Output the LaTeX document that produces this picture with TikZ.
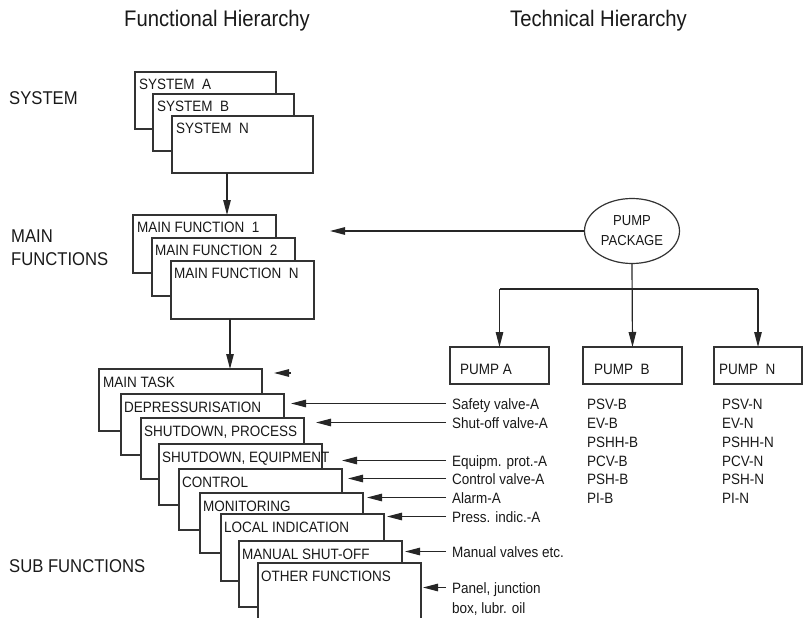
\documentclass[tikz,border=0pt]{standalone}
\usepackage{fontspec}
\setmainfont{Liberation Sans}[FakeStretch=0.9]
\usetikzlibrary{arrows.meta,calc,shapes.geometric}
\begin{document}
\begin{tikzpicture}[x=1pt,y=-1pt,
  box/.style={draw=black!80, line width=1.3pt, fill=white, inner sep=0pt, outer sep=0pt, anchor=north west},
  sysbox/.style={box, minimum width=141pt, minimum height=57pt},
  mfbox/.style={box, minimum width=143pt, minimum height=58pt},
  sfbox/.style={box, minimum width=163pt, minimum height=#1},
  sfbox/.default=61pt,
  pumpbox/.style={box, minimum height=37pt, minimum width=#1},
  tag/.style={anchor=base west, inner sep=0pt, font=\fontsize{15}{18}\selectfont, text=black!90, text height=12pt, text depth=1pt},
  side/.style={anchor=base west, inner sep=0pt, font=\fontsize{18.5}{22}\selectfont, text=black!90},
  heading/.style={anchor=base west, inner sep=0pt, font=\fontsize{22.5}{26}\selectfont, text=black!90},
  arr/.style={draw=black!85, line width=1.2pt, -{Triangle[length=15pt,width=7.5pt]}},
  link/.style={draw=black!85, line width=1.2pt},
]
\clip (0,0) rectangle (804,618);

% headings
\node[heading] (hfun) at (124,27) {Functional Hierarchy};
\node[heading] (htec) at (510,27) {Technical Hierarchy};

% level names
\node[side] (lsys) at (9,104) {SYSTEM};
\node[side] (lmain) at (11,242) {MAIN};
\node[side] (lfunc) at (11,265) {FUNCTIONS};
\node[side] (lsub) at (9,572) {SUB FUNCTIONS};

% systems
\node[sysbox] (sa) at (135,72) {};
\node[tag] (tsa) at ($(sa.north west)+(4,17.5)$) {SYSTEM\ \ A};
\node[sysbox] (sb) at (153,94) {};
\node[tag] (tsb) at ($(sb.north west)+(4,17.5)$) {SYSTEM\ \ B};
\node[sysbox] (sn) at (172,116) {};
\node[tag] (tsn) at ($(sn.north west)+(4,17.5)$) {SYSTEM\ \ N};

% main functions
\node[mfbox] (mf1) at (133,215) {};
\node[tag] (tmf1) at ($(mf1.north west)+(4,17.5)$) {MAIN FUNCTION\ \ 1};
\node[mfbox] (mf2) at (152,238) {};
\node[tag] (tmf2) at ($(mf2.north west)+(3,17.5)$) {MAIN FUNCTION\ \ 2};
\node[mfbox] (mfn) at (171,261) {};
\node[tag] (tmfn) at ($(mfn.north west)+(3,17.5)$) {MAIN FUNCTION\ \ N};

% sub functions
\node[sfbox=62pt] (mt) at (99,369) {};
\node[tag] (tmt) at ($(mt.north west)+(4,18)$) {MAIN TASK};
\node[sfbox] (dp) at (121,394) {};
\node[tag] (tdp) at ($(dp.north west)+(3,18)$) {DEPRESSURISATION};
\node[sfbox] (sp) at (141,418) {};
\node[tag] (tsp) at ($(sp.north west)+(3,18)$) {SHUTDOWN, PROCESS};
\node[sfbox] (se) at (159,444) {};
\node[tag] (tse) at ($(se.north west)+(3,18)$) {SHUTDOWN, EQUIPMENT};
\node[sfbox] (ct) at (179,469) {};
\node[tag] (tct) at ($(ct.north west)+(3,18)$) {CONTROL};
\node[sfbox=60pt] (mo) at (200,493) {};
\node[tag] (tmo) at ($(mo.north west)+(3,18)$) {MONITORING};
\node[sfbox=67pt] (li) at (221,514) {};
\node[tag] (tli) at ($(li.north west)+(3,18)$) {LOCAL INDICATION};
\node[sfbox=66pt] (ms) at (239,541) {};
\node[tag] (tms) at ($(ms.north west)+(3,18)$) {MANUAL SHUT-OFF};
\node[sfbox=80pt] (of) at (258,563) {};
\node[tag] (tof) at ($(of.north west)+(3,18)$) {OTHER FUNCTIONS};

% vertical links of the functional hierarchy
\draw[arr] ([xshift=55pt]sn.south west) -- ([xshift=55pt]sn.south west |- mf1.north);
\draw[arr] ([xshift=59pt]mfn.south west) -- ([xshift=59pt]mfn.south west |- mt.north);

% technical hierarchy
\node[draw=black!80, line width=1.2pt, fill=white, ellipse, minimum width=95pt, minimum height=65pt,
      inner sep=0pt, align=center, font=\fontsize{14.5}{20}\selectfont, text=black!90] (pp) at (632,231) {PUMP\\PACKAGE};
\draw[arr] (pp.west) -- ([xshift=35pt]mf2.east |- pp.west);

\node[pumpbox=99pt] (pa) at (450,347) {};
\node[tag] (tpa) at ($(pa.north west)+(10,27)$) {PUMP A};
\node[pumpbox=99pt] (pb) at (583,347) {};
\node[tag] (tpb) at ($(pb.north west)+(11,27)$) {PUMP\ \ B};
\node[pumpbox=88pt] (pn) at (714,347) {};
\node[tag] (tpn) at ($(pn.north west)+(5,27)$) {PUMP\ \ N};

\coordinate (bus) at (632,289);
\draw[link] (pa.north |- bus) -- (pn.north |- bus);
\draw[arr] (pp.south) -- (pb.north);
\draw[arr] (pa.north |- bus) -- (pa.north);
\draw[arr] (pn.north |- bus) -- (pn.north);

% components of pump A
\node[tag] (ra1) at (452,409) {Safety valve-A};
\node[tag] (ra2) at (452,428) {Shut-off valve-A};
\node[tag] (ra3) at (452,466) {Equipm. prot.-A};
\node[tag] (ra4) at (452,484) {Control valve-A};
\node[tag] (ra5) at (452,503) {Alarm-A};
\node[tag] (ra6) at (452,522) {Press. indic.-A};
\node[tag] (ra7) at (452,557) {Manual valves etc.};
\node[tag] (ra8) at (452,593) {Panel, junction};
\node[tag] (ra9) at (452,613) {box, lubr. oil};

% components of pump B
\node[tag] (rb1) at (587,409) {PSV-B};
\node[tag] (rb2) at (587,428) {EV-B};
\node[tag] (rb3) at (587,447) {PSHH-B};
\node[tag] (rb4) at (587,466) {PCV-B};
\node[tag] (rb5) at (587,484) {PSH-B};
\node[tag] (rb6) at (587,503) {PI-B};

% components of pump N
\node[tag] (rn1) at (722,409) {PSV-N};
\node[tag] (rn2) at (722,428) {EV-N};
\node[tag] (rn3) at (722,447) {PSHH-N};
\node[tag] (rn4) at (722,466) {PCV-N};
\node[tag] (rn5) at (722,484) {PSH-N};
\node[tag] (rn6) at (722,503) {PI-N};

% allocation of components to sub functions
\coordinate (mtq) at (291,373);
\draw[arr] (mtq) -- ++(-17,0);
\draw[arr] ([xshift=-6pt]ra1.west) -- ([xshift=7pt]dp.east |- ra1.west);
\draw[arr] ([xshift=-6pt]ra2.west) -- ([xshift=12pt]sp.east |- ra2.west);
\draw[arr] ([xshift=-6pt]ra3.west) -- ([xshift=20pt]se.east |- ra3.west);
\draw[arr] ([xshift=-6pt]ra4.west) -- ([xshift=6pt]ct.east |- ra4.west);
\draw[arr] ([xshift=-6pt]ra5.west) -- ([xshift=4pt]mo.east |- ra5.west);
\draw[arr] ([xshift=-6pt]ra6.west) -- ([xshift=3pt]li.east |- ra6.west);
\draw[arr] ([xshift=-6pt]ra7.west) -- ([xshift=3pt]ms.east |- ra7.west);
\draw[arr] ([xshift=-6pt]ra8.west) -- ([xshift=2pt]of.east |- ra8.west);
\end{tikzpicture}
\end{document}
